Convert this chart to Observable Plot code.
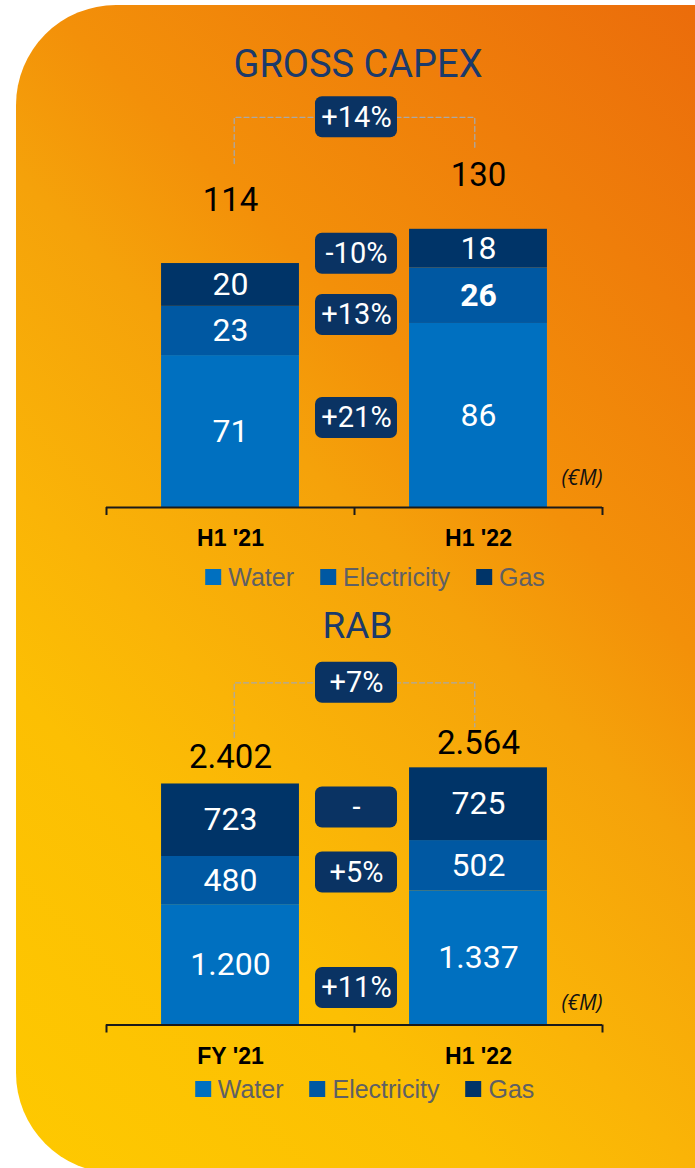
<!DOCTYPE html>
<html><head><meta charset="utf-8">
<script src="https://cdn.jsdelivr.net/npm/d3@7"></script>
<script src="https://cdn.jsdelivr.net/npm/@observablehq/plot@0.6"></script>
<style>
html,body{margin:0;padding:0;background:#fff;}
body{width:695px;height:1168px;overflow:hidden;position:relative;}
#bg{position:absolute;left:16px;top:5px;width:679px;height:1168px;border-radius:100px 0 0 100px;
  background:linear-gradient(225deg,#eb6c0b 0%,#f39009 35%,#f5a20a 46%,#fab407 63%,#fcbf03 74%,#fec900 100%);}
.title{position:absolute;transform:translateX(-50%);white-space:nowrap;font-family:Roboto,sans-serif;color:#1b3a6b;}
.legend{position:absolute;transform:translateX(-50%);display:flex;align-items:center;white-space:nowrap;
  font-family:"Liberation Sans",Arial,sans-serif;font-size:25px;color:#5f6064;height:25px;line-height:25px;}
.legend .item{display:flex;align-items:center;margin-right:26px}
.legend .item:last-child{margin-right:0}
.legend .sw{width:16px;height:16px;margin-right:7px}
</style></head><body>
<div id="bg"></div>
<script>
// ---------- data ----------
const segments = ["Water", "Electricity", "Gas"];
const segmentColors = ["#0070c0", "#0058a2", "#003468"];

const capexTitle = "GROSS CAPEX";
const capexCategories = ["H1 '21", "H1 '22"];
const capexWater = [71, 86];
const capexElectricity = [23, 26];
const capexGas = [20, 18];
const capexTotals = [114, 130];
const capexSegmentChange = ["+21%", "+13%", "-10%"]; // water, electricity, gas
const capexTotalChange = "+14%";

const rabTitle = "RAB";
const rabCategories = ["FY '21", "H1 '22"];
const rabWater = [1200, 1337];
const rabElectricity = [480, 502];
const rabGas = [723, 725];
const rabTotals = [2402, 2564];
const rabSegmentChange = ["+11%", "+5%", "-"];
const rabTotalChange = "+7%";

const unitLabel = "(€M)";

// ---------- layout (pixels) ----------
const W = 695, mL = 106, mR = 93;
const stepPx = (W - mL - mR) / 2;
const layouts = [
  {titleY: 63.5, titleX: 358, titleSize: 38, svgTop: 90, svgHeight: 470, baseline: 417, ppu: 2.14,
   badgeNudge: [-5.5, 1.7, -13], totalGap: [63, 54], bracketRise: 58, bracketDrop: [37, 28], unitRise: 29,
   legendY: 577, legendX: 375, bold: [[1, 1]]},
  {titleY: 625, titleX: 357.5, titleSize: 37, svgTop: 650, svgHeight: 425, baseline: 374.5, ppu: 0.1003,
   badgeNudge: [26.6, -0.6, -4.7], totalGap: [26.5, 24], bracketRise: 61, bracketDrop: [20, 17], unitRise: 21.5,
   legendY: 1089, legendX: 364.5, bold: []}
];

const fmt = d3.formatLocale({decimal: ",", thousands: ".", grouping: [3], currency: ["€", ""]}).format(",d");

const charts = [
  {title: capexTitle, categories: capexCategories, series: [capexWater, capexElectricity, capexGas],
   totals: capexTotals, segChange: capexSegmentChange, totalChange: capexTotalChange},
  {title: rabTitle, categories: rabCategories, series: [rabWater, rabElectricity, rabGas],
   totals: rabTotals, segChange: rabSegmentChange, totalChange: rabTotalChange}
];

function condense(svg, label, s) {
  svg.querySelectorAll(`g[aria-label="${label}"] text`).forEach(t => {
    const b = t.getBBox();
    const cx = b.x + b.width / 2;
    t.setAttribute("transform", (t.getAttribute("transform") || "") + ` translate(${cx},0) scale(${s},1) translate(${-cx},0)`);
  });
}
function shadow(svg, label, f) {
  svg.querySelectorAll(`g[aria-label="${label}"]`).forEach(g => g.style.filter = f);
}

charts.forEach((cfg, k) => {
  const L = layouts[k];
  const {categories, series, totals, segChange, totalChange} = cfg;
  const px = p => p / L.ppu;          // pixels -> y data units
  const pxX = p => p / stepPx;        // pixels -> x data units

  // title
  const t = document.createElement("div");
  t.className = "title";
  t.textContent = cfg.title;
  Object.assign(t.style, {left: L.titleX + "px", top: (L.titleY - L.titleSize / 2) + "px",
    fontSize: L.titleSize + "px", lineHeight: L.titleSize + "px", height: L.titleSize + "px"});
  document.body.appendChild(t);

  // stacked rows
  const rows = [];
  categories.forEach((c, i) => {
    let acc = 0;
    series.forEach((vals, s) => {
      const v = vals[i];
      rows.push({cat: c, i, s, seg: segments[s], value: v, y1: acc, y2: acc + v,
        bold: L.bold.some(([bi, bs]) => bi === i && bs === s)});
      acc += v;
    });
  });
  const stackTop = categories.map((c, i) => d3.sum(series, v => v[i]));

  // totals
  const totalRows = categories.map((c, i) => ({i, label: fmt(totals[i]), y: stackTop[i] + px(L.totalGap[i])}));
  const bracketTop = d3.max(totalRows, d => d.y) + px(L.bracketRise);
  const inset = 0.015;
  const bracket = [
    {x: 0 + inset, y: totalRows[0].y + px(L.bracketDrop[0])},
    {x: 0 + inset, y: bracketTop},
    {x: 1 - inset, y: bracketTop},
    {x: 1 - inset, y: totalRows[1].y + px(L.bracketDrop[1])}
  ];

  // badges
  const xc = 0.5 + pxX(2);
  const badges = segments.map((seg, s) => {
    const mids = rows.filter(r => r.s === s).map(r => (r.y1 + r.y2) / 2);
    return {label: segChange[s], y: d3.mean(mids) + px(-L.badgeNudge[s])};
  });
  badges.push({label: totalChange, y: bracketTop});
  const bw = 82, bh = 41;

  const yMax = L.baseline / L.ppu;
  const font = "Roboto";

  const svg = Plot.plot({
    width: W, height: L.svgHeight,
    marginLeft: mL, marginRight: mR, marginTop: 0, marginBottom: L.svgHeight - L.baseline,
    x: {domain: [-0.5, 1.5], axis: null},
    y: {domain: [0, yMax], axis: null},
    style: {background: "transparent", overflow: "visible"},
    marks: [
      Plot.line(bracket, {x: "x", y: "y", stroke: "#a8a8a8", strokeWidth: 1.3, strokeDasharray: "5,3"}),
      Plot.rect(rows, {x1: d => d.i - 0.278, x2: d => d.i + 0.278, y1: "y1", y2: "y2",
        fill: d => segmentColors[d.s]}),
      Plot.ruleY([0], {stroke: "#1a1a1a", strokeWidth: 2}),
      Plot.ruleX([-0.5, 0.5, 1.5], {x: d => d, y1: () => 0, y2: () => -px(8), stroke: "#1a1a1a", strokeWidth: 2}),
      Plot.rect(badges, {x1: () => xc - pxX(bw / 2), x2: () => xc + pxX(bw / 2),
        y1: d => d.y - px(bh / 2), y2: d => d.y + px(bh / 2), fill: "#0a3363", rx: 7}),
      Plot.text(badges, {x: () => xc, y: "y", text: "label", fill: "white", fontSize: 29,
        fontFamily: font, ariaLabel: "badgetext"}),
      Plot.text(rows.filter(d => !d.bold), {x: "i", y: d => (d.y1 + d.y2) / 2, text: d => fmt(d.value),
        fill: "white", fontSize: 32, fontFamily: font, ariaLabel: "seglabels"}),
      Plot.text(rows.filter(d => d.bold), {x: "i", y: d => (d.y1 + d.y2) / 2, text: d => fmt(d.value),
        fill: "white", fontSize: 32, fontWeight: "bold", fontFamily: font, ariaLabel: "seglabels"}),
      Plot.text(totalRows, {x: "i", y: "y", text: "label", fill: "black", fontSize: 33,
        fontFamily: font, ariaLabel: "totals"}),
      Plot.text(categories, {x: (d, i) => i, y: () => 0, dy: 31.5, text: d => d, fill: "black",
        fontSize: 23, fontWeight: "bold", fontFamily: "Liberation Sans", ariaLabel: "category"}),
      Plot.text([unitLabel], {x: () => 1.5, y: () => 0, dy: -L.unitRise, text: d => d, textAnchor: "end",
        fontStyle: "italic", fontSize: 21, fontFamily: "Open Sans", fill: "#111"})
    ]
  });
  svg.style.position = "absolute";
  svg.style.left = "0px";
  svg.style.top = L.svgTop + "px";
  document.body.appendChild(svg);
  condense(svg, "category", 0.88);
  shadow(svg, "seglabels", "drop-shadow(1px 1px 1px rgba(0,0,0,0.45))");
  shadow(svg, "badgetext", "drop-shadow(1px 1px 1px rgba(0,0,0,0.45))");
  shadow(svg, "totals", "drop-shadow(1.5px 1.5px 1px rgba(80,40,0,0.45))");

  // legend
  const lg = document.createElement("div");
  lg.className = "legend";
  Object.assign(lg.style, {left: L.legendX + "px", top: (L.legendY - 12.5) + "px"});
  segments.forEach((seg, s) => {
    const it = document.createElement("div");
    it.className = "item";
    const sw = document.createElement("div");
    sw.className = "sw";
    sw.style.background = segmentColors[s];
    const tx = document.createElement("span");
    tx.textContent = seg;
    it.appendChild(sw); it.appendChild(tx);
    lg.appendChild(it);
  });
  document.body.appendChild(lg);
});
</script>
</body></html>
